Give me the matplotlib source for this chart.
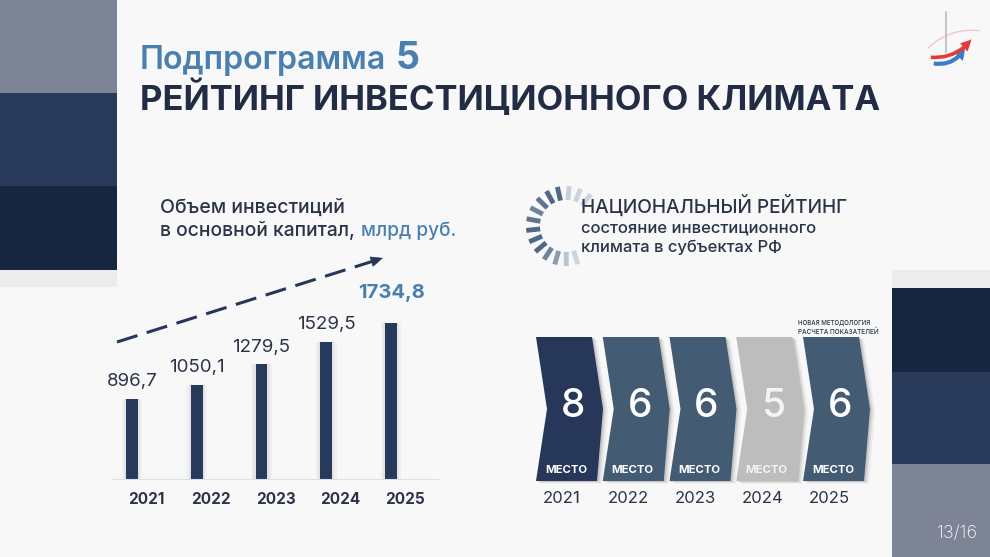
import matplotlib
matplotlib.use('Agg')
import matplotlib.pyplot as plt
from matplotlib.patches import Rectangle, Polygon, FancyArrowPatch
import numpy as np

plt.rcParams['font.family'] = ['Inter', 'DejaVu Sans']

# data
years = ['2021', '2022', '2023', '2024', '2025']
invest = [896.7, 1050.1, 1279.5, 1529.5, 1734.8]
invest_labels = ['896,7', '1050,1', '1279,5', '1529,5', '1734,8']
ranks = ['8', '6', '6', '5', '6']
rank_colors = ['#27375a', '#435b73', '#435b73', '#bdbdbd', '#435b73']

DARK = '#2b3447'
BLUE = '#4a80b0'
W, H = 990, 557

fig = plt.figure(figsize=(9.9, 5.57), dpi=100)
fig.patch.set_facecolor('#f8f8f9')
rend = fig.canvas.get_renderer()

bg = fig.add_axes([0, 0, 1, 1])
bg.set_xlim(0, W)
bg.set_ylim(H, 0)
bg.axis('off')


def px_axes(x0, y0, x1, y1):
    return fig.add_axes([x0 / W, 1 - y1 / H, (x1 - x0) / W, (y1 - y0) / H])


def fit(t, width):
    bb = t.get_window_extent(rend)
    t.set_fontsize(t.get_fontsize() * width / bb.width)
    return t


# side blocks
for x, y, w, h, c in [(0, 0, 117, 93, '#7c8495'), (0, 93, 117, 93, '#293a5a'),
                      (0, 186, 117, 84, '#172640'), (0, 270, 117, 17, '#ececec'),
                      (892, 270, 98, 18, '#ececec'), (892, 288, 98, 84, '#172640'),
                      (892, 372, 98, 92, '#293a5a'), (892, 464, 98, 93, '#7c8495')]:
    bg.add_patch(Rectangle((x, y), w, h, color=c, lw=0))

bg.text(957, 533, '13/16', color='white', fontsize=13, weight='light',
        ha='center', va='center')

# titles
fit(bg.text(140, 69, 'Подпрограмма', color=BLUE, fontsize=19, weight='semibold',
            va='baseline'), 246)
fit(bg.text(396, 69, '5', color=BLUE, fontsize=24, weight='bold', va='baseline'), 24)
fit(bg.text(140, 110, 'РЕЙТИНГ ИНВЕСТИЦИОННОГО КЛИМАТА', color='#222d45',
            fontsize=24, weight='bold', va='baseline'), 742)

fit(bg.text(160, 213, 'Объем инвестиций', color=DARK, fontsize=13, weight='medium',
            va='baseline'), 185)
fit(bg.text(160, 236, 'в основной капитал,', color=DARK, fontsize=13, weight='medium',
            va='baseline'), 195)
fit(bg.text(361, 236, 'млрд руб.', color=BLUE, fontsize=13, weight='medium',
            va='baseline'), 95)

fit(bg.text(581, 213, 'НАЦИОНАЛЬНЫЙ РЕЙТИНГ', color=DARK, fontsize=14, weight='medium',
            va='baseline'), 268)
fit(bg.text(581, 233, 'состояние инвестиционного', color=DARK, fontsize=11,
            weight='medium', va='baseline'), 236)
fit(bg.text(581, 252, 'климата в субъектах РФ', color=DARK, fontsize=11,
            weight='medium', va='baseline'), 202)

fit(bg.text(798, 323, 'НОВАЯ МЕТОДОЛОГИЯ', color=DARK, fontsize=5.5, weight='medium',
            va='center'), 72)
fit(bg.text(798, 331, 'РАСЧЕТА ПОКАЗАТЕЛЕЙ', color=DARK, fontsize=5.5, weight='medium',
            va='center'), 81)

# spinner icon
cx, cy = 566, 226
spin_cols = ['#ccd5de', '#ccd5de', '#c8d1db', '#4f6885', '#4f6885', '#5d7590',
             '#6f849b', '#5d7590', '#4f6885', '#4f6885', '#4f6885', '#6f849b',
             '#8a9bb0', '#b9c5d1', '#ccd5de']
for k, c in enumerate(spin_cols):
    a = np.radians(52 + 16.8 * k)
    bg.plot([cx + 26 * np.cos(a), cx + 40 * np.cos(a)],
            [cy - 26 * np.sin(a), cy - 40 * np.sin(a)],
            color=c, lw=3.5, solid_capstyle='butt')

# logo
bg.plot([946, 946], [12, 52], color='#b8bcc4', lw=1.2)
bg.add_patch(FancyArrowPatch((926, 50), (982, 31), connectionstyle='arc3,rad=-0.25',
                             arrowstyle='-', color='#f3c6c6', lw=1))
bg.add_patch(FancyArrowPatch((931, 63), (966, 45), connectionstyle='arc3,rad=0.4',
                             arrowstyle='simple,head_width=9,head_length=8,tail_width=3',
                             color='#3f7cc8', lw=0))
bg.add_patch(FancyArrowPatch((928, 57), (973, 37), connectionstyle='arc3,rad=0.3',
                             arrowstyle='simple,head_width=8,head_length=8,tail_width=2.6',
                             color='#e53935', lw=0))

# dashed trend arrow
p0 = np.array([117, 342])
p1 = np.array([383, 258])
u = (p1 - p0) / np.linalg.norm(p1 - p0)
pb = p1 - u * 11
bg.plot([p0[0], pb[0]], [p0[1], pb[1]], color='#27375a', lw=2.2,
        linestyle=(0, (7, 3.2)))
bg.annotate('', xy=p1, xytext=pb,
            arrowprops=dict(arrowstyle='-|>,head_width=0.35,head_length=0.8',
                            color='#27375a', lw=0.5, shrinkA=0, shrinkB=0))

# bar chart
ax = px_axes(100, 250, 450, 480)
ax.set_facecolor('none')
ax.set_xlim(-0.494, 4.911)
ax.set_ylim(0, 230 / 0.0903)
x = np.arange(len(years))
ax.bar(x, invest, width=0.32, color='#000000', alpha=0.03, zorder=1)
ax.bar(x, invest, width=0.25, color='#000000', alpha=0.05, zorder=1)
ax.bar(x, invest, width=0.18, color='#283a5c', zorder=2)
ax.axhline(0, xmin=0.037, xmax=0.966, color='#d5e3f0', lw=1.5, zorder=3)
for i, (v, lbl) in enumerate(zip(invest, invest_labels)):
    last = i == len(invest) - 1
    ax.annotate(lbl, (i, v), xytext=(0, 22 if last else 12.5), textcoords='offset points',
                ha='center', va='center', fontsize=14.5 if last else 13.5,
                weight='bold' if last else 'normal', color=BLUE if last else DARK)
ax.set_xticks(x + 0.22, years)
ax.tick_params(length=0, pad=9)
for t in ax.get_xticklabels():
    t.set_fontsize(11)
    t.set_fontweight('bold')
    t.set_color(DARK)
ax.set_yticks([])
for s in ax.spines.values():
    s.set_visible(False)

# ranking chevrons
cv = px_axes(520, 320, 880, 510)
cv.set_facecolor('none')
U = 66.75
cv.set_xlim((520 - 566) / U, (880 - 566) / U)
cv.set_ylim(0, 1)
cv.axis('off')
top, mid, bot = 0.9105, 0.5316, 0.1526
for i, (r, c) in enumerate(zip(ranks, rank_colors)):
    L = i - 30 / U
    pts = [(L, top), (L + 56 / U, top), (L + 67 / U, mid), (L + 61 / U, bot),
           (L, bot), (L + 11 / U, mid)]
    for dx, al in [(5, 0.05), (3, 0.08), (1.5, 0.1)]:
        cv.add_patch(Polygon([(px + dx / U, py - dx / 380) for px, py in pts],
                             color='#000000', alpha=al, lw=0))
    cv.add_patch(Polygon(pts, color=c, lw=0))
    fg = '#f4f4f4' if c == '#bdbdbd' else 'white'
    cv.text(L + 37 / U, 0.547, r, color=fg, fontsize=28, weight='medium',
            ha='center', va='center')
    cv.text(L + 30 / U, 0.21, 'МЕСТО', color=fg, fontsize=8.2, weight='bold',
            ha='center', va='center')
    cv.text(L + 26 / U, 0.058, years[i], color=DARK, fontsize=12,
            ha='center', va='center')

fig.savefig('out.png', dpi=100, facecolor=fig.get_facecolor())
